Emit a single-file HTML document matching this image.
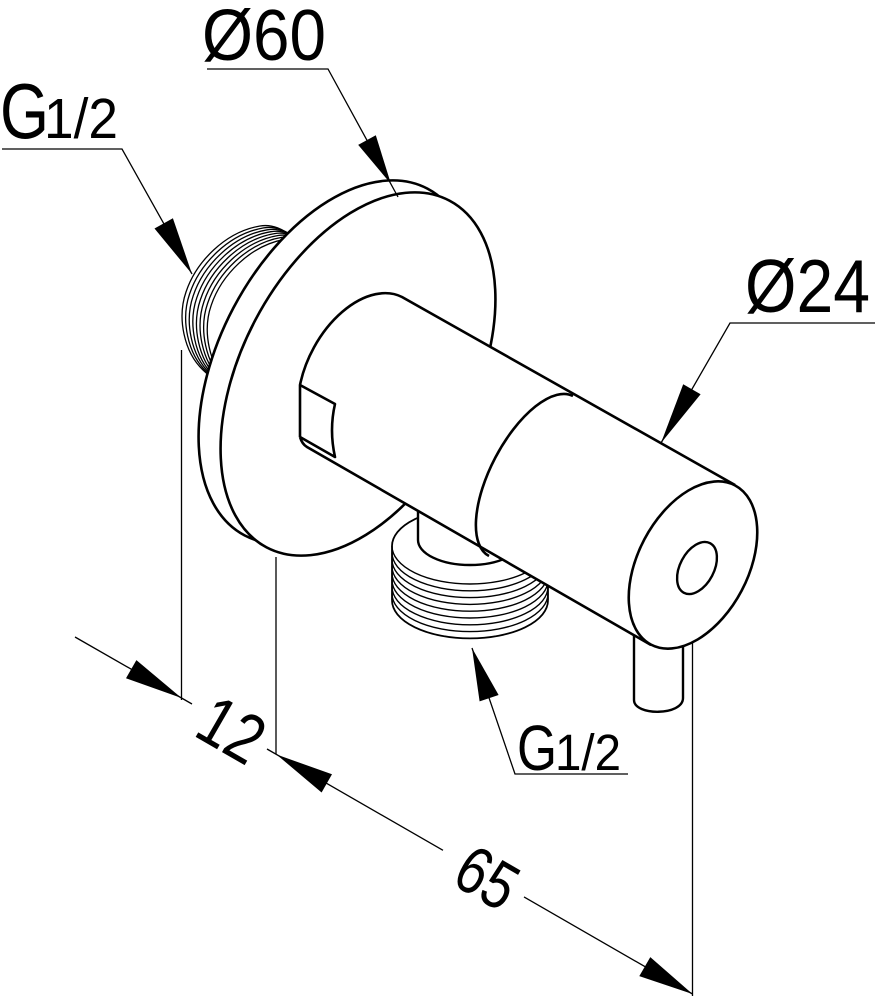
<!DOCTYPE html>
<html>
<head>
<meta charset="utf-8">
<style>
  html, body { margin: 0; padding: 0; background: #fff; }
  svg { display: block; }
  text { font-family: "Liberation Sans", Arial, sans-serif; fill: #000; }
</style>
</head>
<body>
<svg width="876" height="1000" viewBox="0 0 876 1000" xmlns="http://www.w3.org/2000/svg">
  <rect width="876" height="1000" fill="#fff"/>

  <!-- Left thread (behind flange) -->
  <g fill="none" stroke="#000" stroke-width="1.3">
    <path d="M215,381 L203,370 C184,352 177,318 186,292 C196,262 225,232 260,226 C272,224 284,229 293,238"/>
    <path transform="translate(3.6,1.9)" d="M215,381 L203,370 C184,352 177,318 186,292 C196,262 225,232 260,226 C272,224 284,229 293,238"/>
    <path transform="translate(7.2,3.8)" d="M215,381 L203,370 C184,352 177,318 186,292 C196,262 225,232 260,226 C272,224 284,229 293,238"/>
    <path transform="translate(10.8,5.7)" d="M215,381 L203,370 C184,352 177,318 186,292 C196,262 225,232 260,226 C272,224 284,229 293,238"/>
    <path transform="translate(14.4,7.6)" d="M215,381 L203,370 C184,352 177,318 186,292 C196,262 225,232 260,226 C272,224 284,229 293,238"/>
    <path transform="translate(18,9.5)" d="M215,381 L203,370 C184,352 177,318 186,292 C196,262 225,232 260,226 C272,224 284,229 293,238"/>
    <path transform="translate(21.6,11.4)" d="M215,381 L203,370 C184,352 177,318 186,292 C196,262 225,232 260,226 C272,224 284,229 293,238"/>
    <path transform="translate(25.2,13.3)" d="M215,381 L203,370 C184,352 177,318 186,292 C196,262 225,232 260,226 C272,224 284,229 293,238"/>
  </g>

  <!-- Flange -->
  <ellipse cx="336" cy="362" rx="116" ry="196" transform="rotate(27.8 336 362)" fill="#fff" stroke="#000" stroke-width="2.6"/>
  <ellipse cx="358" cy="374" rx="116" ry="196" transform="rotate(27.8 358 374)" fill="#fff" stroke="#000" stroke-width="2.6"/>

  <!-- Bottom thread -->
  <path d="M392,546 L392,601 A78,38 0 0 0 548,601 L548,546 A78,38 0 0 0 392,546 Z" fill="#fff" stroke="none"/>
  <g fill="none" stroke="#000" stroke-width="1.4">
    <path d="M392,546 A78,38 0 0 1 548,546" stroke-width="1.8"/>
    <path d="M392,546 A78,38 0 0 0 548,546"/>
    <path d="M392,552.8 A78,38 0 0 0 548,552.8"/>
    <path d="M392,559.6 A78,38 0 0 0 548,559.6"/>
    <path d="M392,566.4 A78,38 0 0 0 548,566.4"/>
    <path d="M392,573.2 A78,38 0 0 0 548,573.2"/>
    <path d="M392,580 A78,38 0 0 0 548,580"/>
    <path d="M392,586.8 A78,38 0 0 0 548,586.8"/>
    <path d="M392,593.6 A78,38 0 0 0 548,593.6"/>
    <path d="M392,600.4 A78,38 0 0 0 548,600.4" stroke-width="1.8"/>
    <path d="M392,546 L392,600.4" stroke-width="1.8"/>
    <path d="M548,546 L548,600.4" stroke-width="1.8"/>
  </g>

  <!-- Neck -->
  <path d="M418,500 L418,540 A52,25 0 0 0 522,540 L522,500 Z" fill="#fff" stroke="none"/>
  <path d="M418,505 L418,540 A52,25 0 0 0 522,540" fill="none" stroke="#000" stroke-width="2.4"/>

  <!-- Lever -->
  <path d="M634,620 L634,700 C634,716 683,716 683,698 L683,620" fill="#fff" stroke="#000" stroke-width="2.4"/>

  <!-- Valve body -->
  <path d="M300,437 L300,385 A55,88 27.8 0 1 402,297 L735,485 L651,645 L306,446 Z" fill="#fff" stroke="none"/>
  <g fill="none" stroke="#000" stroke-width="2.6" stroke-linejoin="round">
    <path d="M300,437 L300,385 A55,88 27.8 0 1 402,297 L735,485"/>
    <path d="M300,437 Q302,444 307,447 L651,645"/>
    <path d="M300,385 L335,404 Q329,430 335,457 L300,437"/>
    <path d="M573,396 A40,90 27.8 0 0 489,556"/>
  </g>
  <ellipse cx="693" cy="565" rx="55" ry="90" transform="rotate(27.8 693 565)" fill="#fff" stroke="#000" stroke-width="2.6"/>
  <ellipse cx="697" cy="568" rx="17" ry="28" transform="rotate(27.8 697 568)" fill="#fff" stroke="#000" stroke-width="2.4"/>

  <!-- Extension lines -->
  <g stroke="#000" stroke-width="1.3" fill="none">
    <path d="M181.5,350 L181.5,700"/>
    <path d="M276,557 L276,754"/>
    <path d="M692.5,643 L692.5,996"/>
    <!-- dimension lines -->
    <path d="M75,637 L192,704"/>
    <path d="M267,749 L443,850.3"/>
    <path d="M524,896.9 L692.5,994"/>
    <!-- leaders -->
    <path d="M2,149 L122,149 L192,274"/>
    <path d="M207,69 L328,69 L398,197"/>
    <path d="M875,323 L730,323 L661,443"/>
    <path d="M628,774 L515,774 L472,648"/>
  </g>

  <!-- Arrowheads -->
  <g fill="#000" stroke="none">
    <polygon points="391,184 375.8,135.3 358.2,144.9"/>
    <polygon points="192,274 172.9,218.3 154.5,228.5"/>
    <polygon points="661,443 700.6,394.2 683.2,384.2"/>
    <polygon points="472,648 498.6,695 479.6,701.4"/>
    <polygon points="181.5,698 136.4,660.1 126,678.3"/>
    <polygon points="276.5,754.5 332,774.3 321.6,792.5"/>
    <polygon points="692.5,994 650.3,957.1 639.3,976.1"/>
  </g>

  <!-- Labels -->
  <text x="202" y="60" font-size="72" textLength="124" lengthAdjust="spacingAndGlyphs">Ø60</text>
  <text x="0" y="138" font-size="78" textLength="49" lengthAdjust="spacingAndGlyphs">G</text>
  <text x="44" y="138" font-size="57" textLength="74" lengthAdjust="spacingAndGlyphs">1/2</text>
  <text x="745" y="312" font-size="75" textLength="125" lengthAdjust="spacingAndGlyphs">Ø24</text>
  <text x="517" y="770" font-size="64" textLength="40" lengthAdjust="spacingAndGlyphs">G</text>
  <text x="555" y="770" font-size="51" textLength="66" lengthAdjust="spacingAndGlyphs">1/2</text>
  <text transform="translate(232,729) rotate(30) scale(0.82,1)" x="0" y="25" font-size="70" text-anchor="middle">12</text>
  <text transform="translate(487.5,877) rotate(30) scale(0.8,1)" x="0" y="24" font-size="67" text-anchor="middle">65</text>
</svg>
</body>
</html>
